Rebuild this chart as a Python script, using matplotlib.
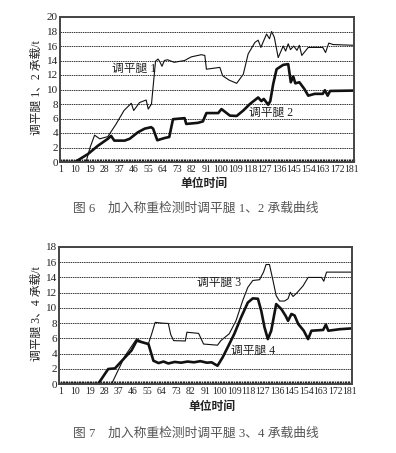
import matplotlib
matplotlib.use("Agg")
import matplotlib.pyplot as plt
from matplotlib.ticker import MultipleLocator, FixedLocator

plt.rcParams['font.family'] = ['Liberation Serif', 'Noto Sans CJK SC', 'DejaVu Sans']

# ---------- data (time index, load in t) ----------
leg1_t = [1, 16.5, 19, 21.8, 25, 30, 35, 40, 44.5, 46, 49.6, 53.7, 55, 57, 59.5, 61, 62, 63.5,
          65, 67, 71, 77.5, 81.6, 87.8, 90, 91, 99.3, 101, 105, 109.7, 113.8, 116.8, 121, 123,
          124.7, 126, 128.2, 130, 131.3, 133, 135.4, 138.5, 140, 141.6, 143, 145, 147, 148.5,
          150, 154, 163, 164.7, 166.7, 169.4, 182]
leg1_v = [0, 0, 2.0, 3.7, 3.2, 3.5, 5.2, 7.1, 8.1, 7.1, 8.2, 8.55, 7.3, 8.0, 13.9, 14.2, 13.9, 13.2,
          14.0, 14.1, 13.75, 14.0, 14.5, 14.8, 14.7, 12.8, 13.05, 11.9, 11.3, 10.85, 12.1, 14.9, 16.5, 16.8,
          15.8, 16.5, 17.65, 17.0, 18.0, 17.2, 14.4, 16.0, 15.3, 16.3, 15.5, 16.0, 15.4, 16.1,
          14.7, 15.8, 15.8, 15.1, 16.4, 16.2, 16.1]

leg2_t = [1, 9.7, 17.7, 23.9, 30, 32, 34, 40.4, 43.5, 48.6, 52.8, 56.8, 58, 60.6, 65, 68, 70.3,
          77.5, 78.5, 85.7, 88.8, 91, 98.3, 100.3, 105.5, 109.7, 113.8, 117.9, 123, 125, 126.5,
          129.2, 130.5, 132.3, 134.4, 138.5, 141.6, 143.2, 144.7, 146, 148.5, 151.5, 154, 158,
          163, 164.3, 166, 167.5, 182]
leg2_v = [0, 0, 1.1, 2.25, 3.2, 3.6, 2.95, 2.95, 3.2, 4.1, 4.6, 4.8, 4.6, 3.0, 3.3, 3.45, 5.9,
          6.05, 5.25, 5.4, 5.6, 6.75, 6.75, 7.3, 6.4, 6.35, 7.1, 8.0, 8.9, 8.4, 8.7,
          7.9, 8.4, 10.75, 12.8, 13.4, 13.5, 11.0, 11.8, 10.85, 11.0, 10.1, 9.15, 9.4,
          9.4, 9.9, 9.15, 9.8, 9.85]

leg3_t = [1, 32.6, 41, 48.3, 51.4, 55.6, 57.5, 59.8, 64, 68, 69.5, 71.3, 78.6, 79.6, 86.9, 90,
          98.7, 100.8, 106, 110.2, 114.4, 117.6, 120.7, 124.9, 127.4, 129, 131.1, 133.3, 135.3,
          137.4, 140.5, 142.7, 144.1, 145.8, 147.9, 152.1, 155.2, 163.6, 165, 166.7, 182]
leg3_v = [0, 0, 3.7, 5.95, 5.55, 5.3, 6.5, 8.1, 8.0, 7.95, 6.5, 5.7, 5.65, 6.8, 6.65, 5.25,
          5.1, 5.7, 6.6, 8.3, 10.95, 12.7, 13.6, 13.7, 14.7, 15.7, 15.7, 13.6, 11.6,
          10.9, 10.9, 11.2, 12.05, 11.5, 11.9, 12.9, 14.0, 14.0, 13.5, 14.7, 14.7]

leg4_t = [1, 24.2, 30.5, 34.7, 41, 45, 48.3, 51.4, 55.6, 58.7, 61.9, 65, 68, 72, 76, 80, 84, 88,
          92, 95, 97, 98.7, 101.9, 105, 109.2, 113.4, 117.6, 120.7, 123.9, 126, 128, 130.1,
          132.2, 135.3, 138.5, 141.2, 142.7, 144.8, 146.8, 149, 152.5, 155.2, 157.3, 164.6,
          166.3, 167.8, 175, 182]
leg4_v = [0, 0, 1.97, 2.05, 3.5, 4.4, 5.7, 5.5, 5.25, 3.06, 2.75, 2.95, 2.7, 2.9, 2.8, 2.95, 2.85, 3.0,
          2.8, 2.85, 2.6, 2.4, 3.5, 4.8, 6.6, 8.75, 10.7, 11.25, 11.2, 9.6, 7.45, 5.9,
          7.0, 10.5, 9.85, 8.95, 8.3, 9.2, 9.0, 7.9, 7.0, 5.9, 7.0, 7.1,
          7.8, 7.0, 7.2, 7.3]

xtick_labels = [str(v) for v in range(1, 182, 9)]

W, H = 396, 453
fig = plt.figure(figsize=(W / 100, H / 100), dpi=100)


def px_axes(l, r, t, b):
    return fig.add_axes([l / W, 1 - b / H, (r - l) / W, (b - t) / H])


def style(ax, ymax, xlim):
    ax.set_xlim(*xlim)
    ax.set_ylim(0, ymax)
    ax.yaxis.set_major_locator(MultipleLocator(2))
    ax.xaxis.set_major_locator(FixedLocator(list(range(1, 182, 9))))
    ax.set_xticklabels(xtick_labels)
    ax.xaxis.set_minor_locator(MultipleLocator(1))
    ax.grid(axis='y', color='#333333', linestyle=(0, (1.5, 0.8)), linewidth=0.7)
    ax.set_axisbelow(True)
    for s in ax.spines.values():
        s.set_color('#444444')
        s.set_linewidth(1.4)
    ax.tick_params(axis='x', which='both', direction='in', length=2.5, width=0.9,
                   color='#222222', top=False, labelsize=7.0, pad=2.5)
    ax.tick_params(axis='y', which='major', direction='in', length=0, labelsize=8, pad=1.5)
    ax.tick_params(axis='y', which='minor', left=False)
    for lab in ax.get_xticklabels() + ax.get_yticklabels():
        lab.set_color('#222222')


ink = '#111111'

# ---------- Figure 6 ----------
ax1 = px_axes(60, 354, 17, 162)
style(ax1, 20, (0.4, 182.3))
ax1.plot(leg1_t, leg1_v, color=ink, lw=0.8)
ax1.plot(leg2_t, leg2_v, color=ink, lw=1.9)
ax1.text(46, 12.8, '调平腿 1', fontsize=8.5, ha='center', va='center', color='#222222')
ax1.text(131, 6.75, '调平腿 2', fontsize=8.5, ha='center', va='center', color='#222222')
fig.text(37 / W, 1 - 88 / H, '调平腿 1、2 承载/t', rotation=90, fontsize=8.5,
         ha='center', va='center', color='#222222')
fig.text(204 / W, 1 - 184 / H, '单位时间', fontsize=8.5, ha='center', va='center',
         color='#222222', fontweight='bold')
fig.text(196 / W, 1 - 209 / H, '图 6　加入称重检测时调平腿 1、2 承载曲线', fontsize=9.2,
         ha='center', va='center', color='#555555')

# ---------- Figure 7 ----------
ax2 = px_axes(59, 352, 247, 384)
style(ax2, 18, (-0.2, 182.6))
ax2.plot(leg3_t, leg3_v, color=ink, lw=0.8)
ax2.plot(leg4_t, leg4_v, color=ink, lw=1.9)
ax2.text(99.5, 13.3, '调平腿 3', fontsize=8.5, ha='center', va='center', color='#222222')
ax2.text(121, 4.4, '调平腿 4', fontsize=8.5, ha='center', va='center', color='#222222')
fig.text(37 / W, 1 - 314 / H, '调平腿 3、4 承载/t', rotation=90, fontsize=8.5,
         ha='center', va='center', color='#222222')
fig.text(212 / W, 1 - 407 / H, '单位时间', fontsize=8.5, ha='center', va='center',
         color='#222222', fontweight='bold')
fig.text(196 / W, 1 - 434 / H, '图 7　加入称重检测时调平腿 3、4 承载曲线', fontsize=9.2,
         ha='center', va='center', color='#555555')

fig.savefig('out.png', dpi=100, facecolor='white')
